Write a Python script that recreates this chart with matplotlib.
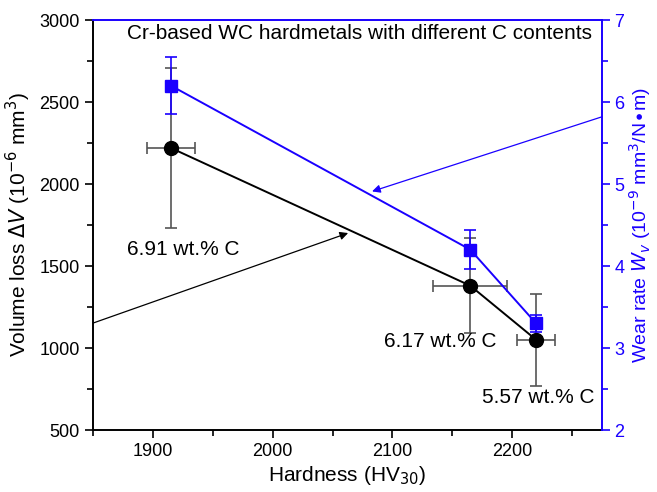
import matplotlib
matplotlib.use('Agg')
from matplotlib import pyplot as plt
from matplotlib.ticker import MultipleLocator

plt.rcParams['font.family'] = ['Liberation Sans', 'DejaVu Sans']

# data
hardness = [1915, 2165, 2220]
hardness_err = [20, 31, 16]
volume_loss = [2220, 1380, 1050]
volume_loss_err = [490, 290, 280]
wear_rate = [6.2, 4.2, 3.3]
wear_rate_err = [0.35, 0.24, 0.1]
labels = ['6.91 wt.% C', '6.17 wt.% C', '5.57 wt.% C']
label_pos = [(1925, 1600), (2140, 1040), (2222, 700)]

blue = '#1a00ff'

fig = plt.figure(figsize=(6.57, 4.92), dpi=100)
ax = fig.add_axes([0.1416, 0.126, 0.7747, 0.8333])
ax2 = ax.twinx()

# black series (volume loss)
ax.errorbar(hardness, volume_loss, yerr=volume_loss_err, xerr=hardness_err,
            fmt='none', ecolor='#555555', elinewidth=1.2, capsize=4, capthick=1.2, zorder=2)
ax.plot(hardness, volume_loss, color='black', lw=1.4, marker='o', ms=10,
        mfc='black', mec='black', zorder=3)

# blue series (wear rate)
ax2.errorbar(hardness, wear_rate, yerr=wear_rate_err, fmt='none', ecolor=blue,
             elinewidth=1.2, capsize=4, capthick=1.2, zorder=2)
ax2.plot(hardness, wear_rate, color=blue, lw=1.4, marker='s', ms=9,
         mfc=blue, mec=blue, zorder=3)

for lab, (x, y) in zip(labels, label_pos):
    ax.text(x, y, lab, fontsize=15, ha='center', va='center')

ax.text(2267, 2915, 'Cr-based WC hardmetals with different C contents',
        fontsize=15, ha='right', va='center')

# arrows
ax.annotate('', xy=(2063, 1701), xytext=(1850, 1152),
            arrowprops=dict(arrowstyle='-|>', color='black', lw=0.9,
                            mutation_scale=12, shrinkA=0, shrinkB=0))
ax2.annotate('', xy=(2083, 4.91), xytext=(2275, 5.82),
             arrowprops=dict(arrowstyle='-|>', color=blue, lw=0.9,
                             mutation_scale=12, shrinkA=0, shrinkB=0))

ax.set_xlim(1850, 2275)
ax.set_ylim(500, 3000)
ax2.set_ylim(2, 7)

ax.xaxis.set_major_locator(MultipleLocator(100))
ax.xaxis.set_minor_locator(MultipleLocator(50))
ax.yaxis.set_major_locator(MultipleLocator(500))
ax.yaxis.set_minor_locator(MultipleLocator(250))
ax2.yaxis.set_major_locator(MultipleLocator(1))
ax2.yaxis.set_minor_locator(MultipleLocator(0.5))

ax.tick_params(which='major', direction='out', length=6, width=1.2, labelsize=13)
ax.tick_params(which='minor', direction='out', length=4, width=1.2)
ax.tick_params(axis='y', which='both', right=False)
ax.tick_params(axis='x', which='both', top=False)
ax2.tick_params(which='major', direction='out', length=6, width=1.2, labelsize=13,
                colors=blue, pad=3)
ax2.tick_params(which='minor', direction='out', length=4, width=1.2, colors=blue)

for s in ['left', 'bottom']:
    ax.spines[s].set_linewidth(1.4)
ax2.spines['right'].set_color(blue)
ax2.spines['right'].set_linewidth(1.4)
ax2.spines['top'].set_color(blue)
ax2.spines['top'].set_linewidth(1.4)
ax2.spines['left'].set_visible(False)
ax2.spines['bottom'].set_visible(False)
ax.spines['top'].set_visible(False)
ax.spines['right'].set_visible(False)

ax.set_xlabel('Hardness (HV$_{30}$)', fontsize=15, labelpad=3)
ax.set_ylabel(r'Volume loss $\mathit{\Delta V}$ (10$^{-6}$ mm$^3$)', fontsize=15, labelpad=5)
ax2.set_ylabel(r'Wear rate $W_v$ (10$^{-9}$ mm$^3$/N$\bullet$m)', fontsize=14,
               color=blue, labelpad=2)

fig.savefig('out.png', dpi=100)
